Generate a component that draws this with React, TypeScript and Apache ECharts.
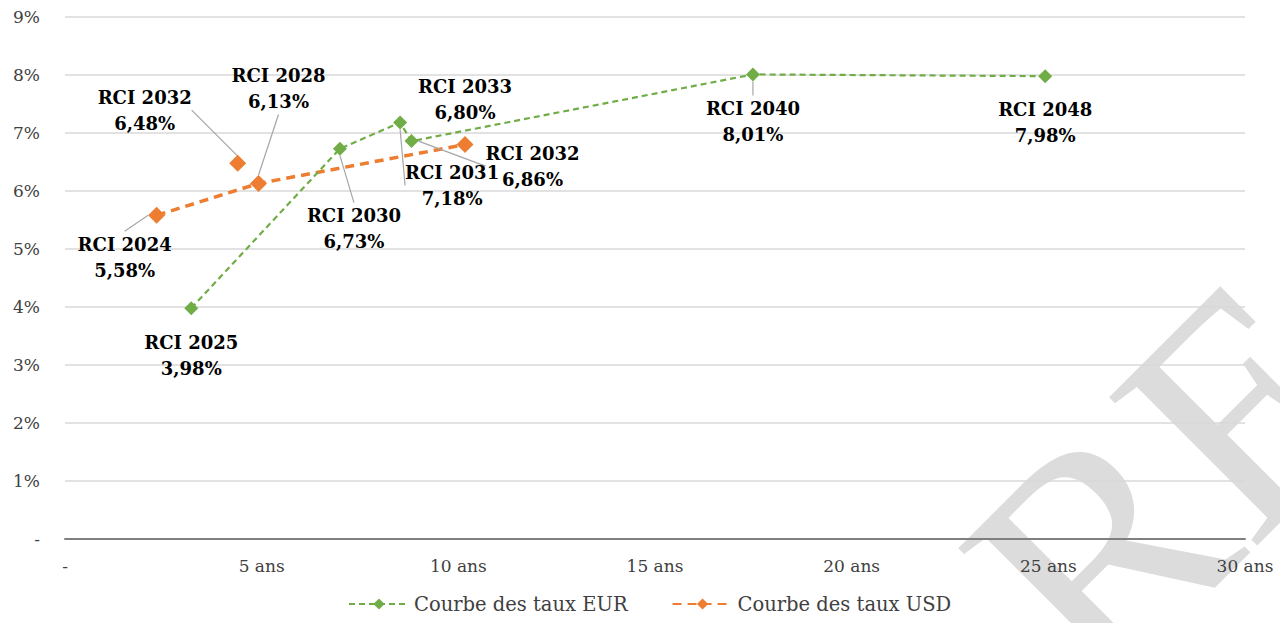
import React, { useEffect, useRef } from "react";
import * as echarts from "echarts";

// ---- Data ----
const xTicks = [0, 5, 10, 15, 20, 25, 30]; // years
const yTicks = [0, 1, 2, 3, 4, 5, 6, 7, 8, 9]; // percent

const eurNames = ["RCI 2025", "RCI 2030", "RCI 2031", "RCI 2032", "RCI 2040", "RCI 2048"];
const eurMaturities = [3.21, 6.99, 8.52, 8.81, 17.49, 24.92];
const eurRates = [3.98, 6.73, 7.18, 6.86, 8.01, 7.98];

const usdNames = ["RCI 2024", "RCI 2028", "RCI 2033"];
const usdMaturities = [2.33, 4.92, 10.17];
const usdRates = [5.58, 6.13, 6.8];

const usdExtraNames = ["RCI 2032"];
const usdExtraMaturities = [4.39];
const usdExtraRates = [6.48];

const seriesNames = ["Courbe des taux EUR", "Courbe des taux USD"];

// ---- Label placement (offsets from marker, in px) ----
const eurLabelOffsets = [[0, 47], [14, 80], [52, 63], [121, 25], [0, 47], [0, 46]];
const eurLabelLines = [false, true, true, true, true, false];
const usdLabelOffsets = [[-32, 42], [20, -95], [0, -45]];
const usdLabelLines = [true, true, false];
const usdExtraLabelOffsets = [[-93, -53]];
const usdExtraLabelLines = [true];

const GREEN = "#70AD47";
const ORANGE = "#ED7D31";
const SERIF = "DejaVu Serif, Liberation Serif, serif";
const WM_FONT = "Liberation Serif, DejaVu Serif, serif";

const fmt = (v: number) => v.toFixed(2).replace(".", ",") + "%";

function buildData(names: string[], xs: number[], ys: number[], lines: boolean[]) {
  return names.map((n, i) => ({
    name: n,
    value: [xs[i], ys[i]],
    labelLine: { show: lines[i] },
  }));
}

const labelStyle = {
  show: true,
  position: "inside" as const,
  formatter: (p: any) => `${p.name}\n${fmt(p.value[1])}`,
  fontFamily: SERIF,
  fontWeight: "bold" as const,
  fontSize: 18,
  lineHeight: 26,
  color: "#000",
  align: "center" as const,
  verticalAlign: "middle" as const,
};

const labelLineStyle = {
  show: true,
  length2: 0,
  lineStyle: { color: "#A6A6A6", width: 1.2 },
};

export default function App() {
  const ref = useRef<HTMLDivElement>(null);
  useEffect(() => {
    if (!ref.current) return;
    const chart = echarts.init(ref.current, undefined, { renderer: "svg" });
    chart.setOption({
      animation: false,
      backgroundColor: "#fff",
      grid: { left: 65, right: 35, top: 17, bottom: 84 },
      legend: {
        data: seriesNames,
        bottom: 4,
        left: 343,
        itemWidth: 60,
        itemHeight: 14,
        itemGap: 44,
        textStyle: { fontFamily: SERIF, fontSize: 19.5, color: "#404040" },
      },
      xAxis: {
        type: "value",
        min: xTicks[0],
        max: xTicks[xTicks.length - 1],
        interval: 5,
        axisLine: { show: true, onZero: false, lineStyle: { color: "#7F7F7F", width: 2 } },
        axisTick: { show: false },
        splitLine: { show: false },
        axisLabel: {
          formatter: (v: number) => (v === 0 ? "-" : `${v} ans`),
          fontFamily: SERIF,
          fontSize: 17,
          color: "#404040",
          margin: 18,
        },
      },
      yAxis: {
        type: "value",
        min: yTicks[0],
        max: yTicks[yTicks.length - 1],
        interval: 1,
        axisLine: { show: false },
        axisTick: { show: false },
        splitLine: { show: true, lineStyle: { color: "#D9D9D9", width: 1.5 } },
        axisLabel: {
          formatter: (v: number) => (v === 0 ? "-" : `${v}%`),
          fontFamily: SERIF,
          fontSize: 17,
          color: "#404040",
          margin: 25,
        },
      },
      graphic: [
        {
          type: "text",
          z: -10,
          x: 1168,
          y: 482,
          rotation: Math.PI / 4,
          silent: true,
          style: {
            text: "RE",
            font: `320px ${WM_FONT}`,
            fill: "#DCDCDC",
            align: "center",
            verticalAlign: "middle",
          },
        },
      ],
      series: [
        {
          name: seriesNames[0],
          type: "line",
          data: buildData(eurNames, eurMaturities, eurRates, eurLabelLines),
          symbol: "diamond",
          symbolSize: 14,
          itemStyle: { color: GREEN },
          lineStyle: { color: GREEN, width: 2.2, type: [6, 4] },
          label: labelStyle,
          labelLine: labelLineStyle,
          labelLayout: (p: any) => ({ dx: eurLabelOffsets[p.dataIndex][0], dy: eurLabelOffsets[p.dataIndex][1] }),
          z: 3,
        },
        {
          name: seriesNames[1],
          type: "line",
          data: buildData(usdNames, usdMaturities, usdRates, usdLabelLines),
          symbol: "diamond",
          symbolSize: 17,
          itemStyle: { color: ORANGE },
          lineStyle: { color: ORANGE, width: 3.5, type: [9, 6] },
          label: labelStyle,
          labelLine: labelLineStyle,
          labelLayout: (p: any) => ({ dx: usdLabelOffsets[p.dataIndex][0], dy: usdLabelOffsets[p.dataIndex][1] }),
          z: 2,
        },
        {
          name: "USD RCI 2032",
          type: "scatter",
          data: buildData(usdExtraNames, usdExtraMaturities, usdExtraRates, usdExtraLabelLines),
          symbol: "diamond",
          symbolSize: 17,
          itemStyle: { color: ORANGE, opacity: 1 },
          label: labelStyle,
          labelLine: labelLineStyle,
          labelLayout: (p: any) => ({ dx: usdExtraLabelOffsets[p.dataIndex][0], dy: usdExtraLabelOffsets[p.dataIndex][1] }),
          z: 2,
        },
      ],
    });
    return () => chart.dispose();
  }, []);
  return (
    <div
      ref={ref}
      style={{ position: "fixed", left: 0, top: 0, width: 1280, height: 623, background: "#fff" }}
    />
  );
}
